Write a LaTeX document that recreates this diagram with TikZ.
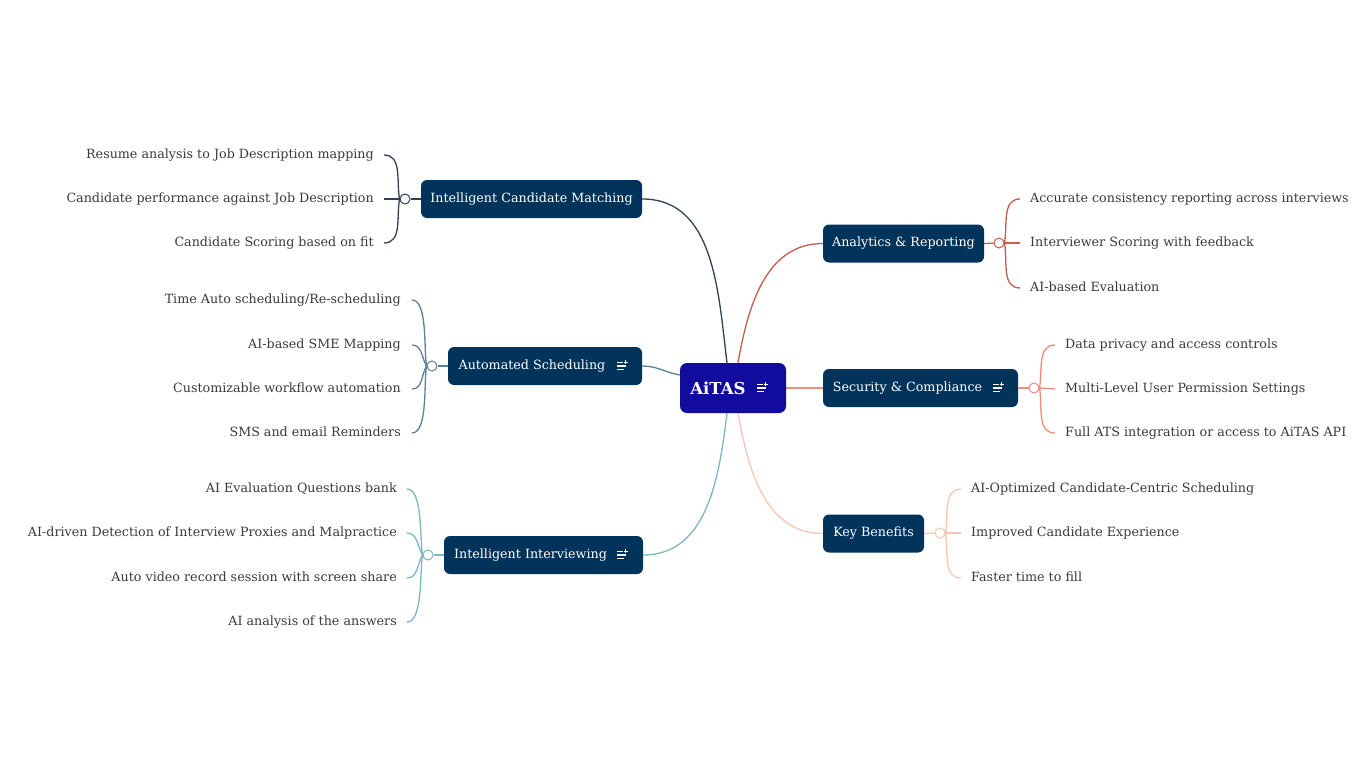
\documentclass[tikz,border=0pt]{standalone}
\usepackage{fontspec}
\setmainfont{DejaVu Serif}
\usetikzlibrary{positioning,backgrounds,calc}
\definecolor{colortopic}{HTML}{02335A}
\definecolor{colorroot}{HTML}{110C9E}
\definecolor{colorleaf}{HTML}{3A3A3A}
\definecolor{colorcm}{HTML}{2F4157}
\definecolor{colorsch}{HTML}{5B8099}
\definecolor{colorint}{HTML}{7DB7C6}
\definecolor{colorar}{HTML}{C25E4C}
\definecolor{colorsc}{HTML}{F28C7A}
\definecolor{colorkb}{HTML}{F5C7B2}
\tikzset{root/.style={fill=colorroot, text=white, rounded corners=7pt, minimum height=50pt, minimum width=106pt, font=\fontsize{16.5}{20}\bfseries}}
\tikzset{topic/.style={fill=colortopic, text=white, rounded corners=6pt, minimum height=38pt, inner xsep=0pt, font=\fontsize{12.7}{15}\selectfont}}
\tikzset{leaf/.style={text=colorleaf, inner sep=0pt, text height=10pt, text depth=3pt, font=\fontsize{12.7}{15}\selectfont}}
\tikzset{junc/.style={circle, draw, fill=white, line width=1pt, minimum size=10pt, inner sep=0pt}}
\tikzset{branch/.style={line width=1.3pt}}
\tikzset{noteicon/.pic={
  \draw[white, line width=1.1pt] (-5,3.5) -- (0.5,3.5) (-5,0) -- (3.5,0) (-5,-3.5) -- (1.5,-3.5);
  \draw[white, line width=0.9pt] (3.5,5.8) -- (3.5,1.6) (1.4,3.7) -- (5.6,3.7);
}}

\begin{document}
\begin{tikzpicture}[x=1pt, y=1pt]
\useasboundingbox (0,0) rectangle (1366,-768);

% main topic and branches
\node[root] (aitas) at (733,-388) {AiTAS\hspace{30pt}\mbox{}};
\pic at ($(aitas.east)+(-24,0)$) {noteicon};

\node[topic, minimum width=221pt] (icm) at (531.5,-199) {Intelligent Candidate Matching};
\node[topic, minimum width=194pt] (as) at (545,-366) {Automated Scheduling\hspace{26pt}\mbox{}};
\pic at ($(as.east)+(-20,0)$) {noteicon};
\node[topic, minimum width=199pt] (ii) at (543.5,-555) {Intelligent Interviewing\hspace{26pt}\mbox{}};
\pic at ($(ii.east)+(-21,0)$) {noteicon};

\node[topic, minimum width=161pt] (ar) at (903.5,-243.5) {Analytics \& Reporting};
\node[topic, minimum width=195pt] (sc) at (920.5,-388) {Security \& Compliance\hspace{26pt}\mbox{}};
\pic at ($(sc.east)+(-20,0)$) {noteicon};
\node[topic, minimum width=101pt] (kb) at (873.5,-533.5) {Key Benefits};

\begin{scope}[on background layer]
\fill[white] (0,0) rectangle (1366,-768);
\draw[branch, colorcm] ($(aitas.north)+(-6,0)$) to[out=97,in=0] (icm.east);
\draw[branch, colorsch] ($(aitas.west)+(0,13)$) to[out=170,in=0] (as.east);
\draw[branch, colorint] ($(aitas.south)+(-6,0)$) to[out=263,in=0] (ii.east);
\draw[branch, colorar] ($(aitas.north)+(5,0)$) to[out=80,in=180] (ar.west);
\draw[branch, colorsc] (aitas) -- (sc);
\draw[branch, colorkb] ($(aitas.south)+(5,0)$) to[out=280,in=180] (kb.west);
\end{scope}

% Intelligent Candidate Matching
\node[junc, draw=colorcm] (icmj) at (405,-199) {};
\node[leaf, anchor=east] (icm1) at (374,-155) {Resume analysis to Job Description mapping};
\node[leaf, anchor=east] (icm2) at (374,-199) {Candidate performance against Job Description};
\node[leaf, anchor=east] (icm3) at (374,-243) {Candidate Scoring based on fit};
\draw[branch, colorcm] (icm.west) -- (icmj);
\draw[branch, colorcm] (icmj.west) to[out=100,in=0] ($(icm1.east)+(10,0)$);
\draw[branch, colorcm] (icmj.west) -- ($(icm2.east)+(10,0)$);
\draw[branch, colorcm] (icmj.west) to[out=260,in=0] ($(icm3.east)+(10,0)$);

% Automated Scheduling
\node[junc, draw=colorsch] (asj) at (432,-366) {};
\node[leaf, anchor=east] (as1) at (401,-300) {Time Auto scheduling/Re-scheduling};
\node[leaf, anchor=east] (as2) at (401,-345) {AI-based SME Mapping};
\node[leaf, anchor=east] (as3) at (401,-389) {Customizable workflow automation};
\node[leaf, anchor=east] (as4) at (401,-433) {SMS and email Reminders};
\draw[branch, colorsch] (as.west) -- (asj);
\draw[branch, colorsch] (asj.west) to[out=100,in=0,looseness=0.6] ($(as1.east)+(11,0)$);
\draw[branch, colorsch] (asj.west) to[out=120,in=0] ($(as2.east)+(11,0)$);
\draw[branch, colorsch] (asj.west) to[out=240,in=0] ($(as3.east)+(11,0)$);
\draw[branch, colorsch] (asj.west) to[out=260,in=0,looseness=0.6] ($(as4.east)+(11,0)$);

% Intelligent Interviewing
\node[junc, draw=colorint] (iij) at (428,-555) {};
\node[leaf, anchor=east] (ii1) at (397,-489) {AI Evaluation Questions bank};
\node[leaf, anchor=east] (ii2) at (397,-533) {AI-driven Detection of Interview Proxies and Malpractice};
\node[leaf, anchor=east] (ii3) at (397,-578) {Auto video record session with screen share};
\node[leaf, anchor=east] (ii4) at (397,-622) {AI analysis of the answers};
\draw[branch, colorint] (ii.west) -- (iij);
\draw[branch, colorint] (iij.west) to[out=100,in=0,looseness=0.6] ($(ii1.east)+(10,0)$);
\draw[branch, colorint] (iij.west) to[out=120,in=0] ($(ii2.east)+(10,0)$);
\draw[branch, colorint] (iij.west) to[out=240,in=0] ($(ii3.east)+(10,0)$);
\draw[branch, colorint] (iij.west) to[out=260,in=0,looseness=0.6] ($(ii4.east)+(10,0)$);

% Analytics & Reporting
\node[junc, draw=colorar] (arj) at (999,-243) {};
\node[leaf, anchor=west] (ar1) at (1030,-199) {Accurate consistency reporting across interviews};
\node[leaf, anchor=west] (ar2) at (1030,-243) {Interviewer Scoring with feedback};
\node[leaf, anchor=west] (ar3) at (1030,-288) {AI-based Evaluation};
\draw[branch, colorar] (ar.east) -- (arj);
\draw[branch, colorar] (arj.east) to[out=80,in=180] ($(ar1.west)+(-10,0)$);
\draw[branch, colorar] (arj.east) -- ($(ar2.west)+(-10,0)$);
\draw[branch, colorar] (arj.east) to[out=280,in=180] ($(ar3.west)+(-10,0)$);

% Security & Compliance
\node[junc, draw=colorsc] (scj) at (1034,-388) {};
\node[leaf, anchor=west] (sc1) at (1065,-345) {Data privacy and access controls};
\node[leaf, anchor=west] (sc2) at (1065,-389) {Multi-Level User Permission Settings};
\node[leaf, anchor=west] (sc3) at (1065,-433) {Full ATS integration or access to AiTAS API};
\draw[branch, colorsc] (sc.east) -- (scj);
\draw[branch, colorsc] (scj.east) to[out=80,in=180] ($(sc1.west)+(-10,0)$);
\draw[branch, colorsc] (scj.east) -- ($(sc2.west)+(-10,0)$);
\draw[branch, colorsc] (scj.east) to[out=280,in=180] ($(sc3.west)+(-10,0)$);

% Key Benefits
\node[junc, draw=colorkb] (kbj) at (940,-533) {};
\node[leaf, anchor=west] (kb1) at (971,-489) {AI-Optimized Candidate-Centric Scheduling};
\node[leaf, anchor=west] (kb2) at (971,-533) {Improved Candidate Experience};
\node[leaf, anchor=west] (kb3) at (971,-578) {Faster time to fill};
\draw[branch, colorkb] (kb.east) -- (kbj);
\draw[branch, colorkb] (kbj.east) to[out=80,in=180] ($(kb1.west)+(-10,0)$);
\draw[branch, colorkb] (kbj.east) -- ($(kb2.west)+(-10,0)$);
\draw[branch, colorkb] (kbj.east) to[out=280,in=180] ($(kb3.west)+(-10,0)$);
\end{tikzpicture}
\end{document}
